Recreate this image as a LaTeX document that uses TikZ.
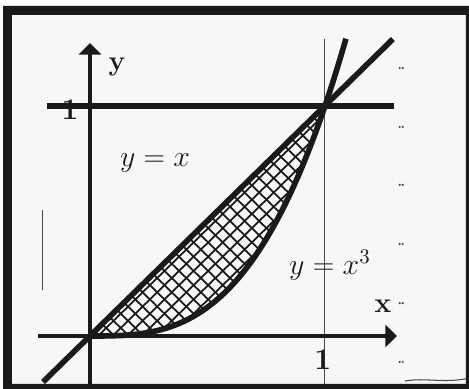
\documentclass[tikz,border=0pt]{standalone}
\usepackage{fix-cm}
\usetikzlibrary{arrows.meta}
\definecolor{Ink}{HTML}{1A1A1A}
\definecolor{Paper}{HTML}{F7F7F5}
\definecolor{Guide}{HTML}{4A4A4A}
\tikzset{
  axis/.style={-{Triangle[length=2.3mm,width=4.4mm]}, draw=Ink, line width=2.6pt},
  curve/.style={draw=Ink, line width=3.2pt, line join=round},
  level/.style={draw=Ink, line width=3.2pt},
  guide/.style={draw=Guide, line width=0.6pt},
  hatch/.style={draw=Ink, line width=1pt},
  speck/.style={fill=Guide},
  axislabel/.style={font=\rmfamily\bfseries\fontsize{16}{18}\selectfont, text=Ink, inner sep=0pt},
  ticklabel/.style={font=\rmfamily\bfseries\fontsize{17}{19}\selectfont, text=Ink, inner sep=0pt},
  eqlabel/.style={font=\fontsize{17}{20}\selectfont, text=Ink, inner sep=0pt},
}

\begin{document}
\begin{tikzpicture}[x=4.7cm, y=4.6cm]
  % Page and scanned paper.
  \useasboundingbox (-0.383,-0.2304) rectangle (1.613,1.461);
  \fill[white] (-0.383,-0.2304) rectangle (1.613,1.461);
  \fill[Paper] (-0.332,-0.2087) rectangle (1.600,1.396);

  % Region between y = x and y = x^3, cross hatched.
  \begin{scope}
    \clip (0,0) -- (1,1) -- plot[domain=1:0, samples=40] (\x,{\x*\x*\x}) -- cycle;
    \foreach \i in {0,...,34} {
      \pgfmathsetmacro\c{-1.02+\i*0.062}
      \draw[hatch] (\c,0) -- ++(1,1);
      \draw[hatch] ({\c+1},0) -- ++(-1,1);
    }
  \end{scope}

  % Guides and axes.
  \draw[guide] (1,-0.23) -- (1,1.291);
  \draw[level] (-0.183,1) -- (1.294,1);
  \draw[axis] (-0.221,0) -- (1.306,0);
  \draw[axis] (0,-0.23) -- (0,1.274);

  % Curves.
  \draw[curve] (-0.2,-0.2) -- (1.289,1.291);
  \draw[curve] plot[domain=0:1.09, samples=60] (\x,{\x*\x*\x});

  % Labels.
  \node[axislabel] (yLabel) at (0.115,1.17) {y};
  \node[axislabel] (xLabel) at (1.247,0.13) {x};
  \node[ticklabel] (oneY) at (-0.085,0.983) {1};
  \node[ticklabel] (oneX) at (0.991,-0.104) {1};
  \node[eqlabel] (eqLine) at (0.277,0.752) {$y = x$};
  \node[eqlabel] (eqCube) at (1.021,0.309) {$y = x^3$};

  % Stray marks of the scan.
  \foreach \y in {1.165,0.909,0.657,0.4,0.143,-0.113} {
    \fill[speck] (1.318,\y) circle (0.7pt);
    \fill[speck] (1.331,\y) circle (0.7pt);
  }
  \draw[guide] (-0.204,0.2) -- (-0.204,0.548);
  \draw[guide] (1.34,-0.196) .. controls (1.42,-0.18) and (1.5,-0.205) .. (1.6,-0.186);

  % Frame.
  \fill[Ink, even odd rule] (-0.370,-0.2304) rectangle (1.613,1.435)
    (-0.332,-0.2087) rectangle (1.600,1.396);
\end{tikzpicture}
\end{document}
